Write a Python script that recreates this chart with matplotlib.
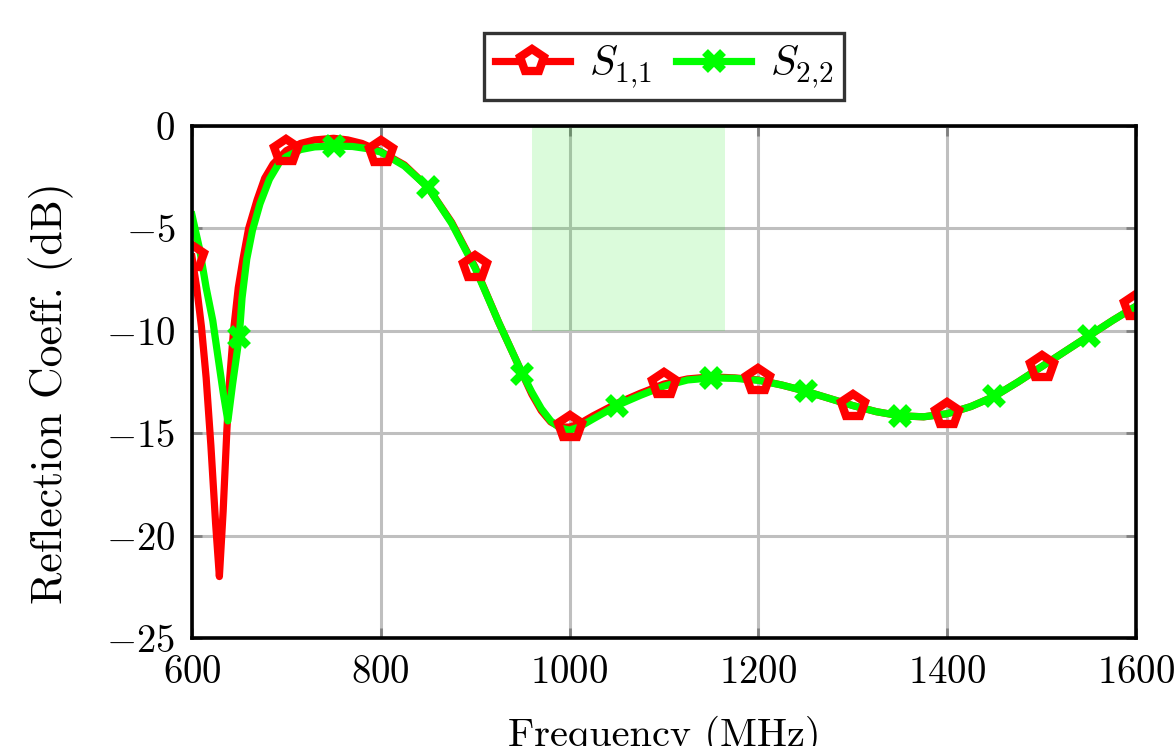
import matplotlib
matplotlib.use("Agg")
import matplotlib.pyplot as plt

plt.rcParams['font.family'] = 'serif'
plt.rcParams['font.serif'] = ['cmr10']
plt.rcParams['mathtext.fontset'] = 'cm'
plt.rcParams['axes.formatter.use_mathtext'] = True
plt.rcParams['axes.unicode_minus'] = True

# S11 (red)
s11_f = [600, 605, 610, 615, 620, 625, 629, 633, 637, 640, 644, 649, 654, 660, 669, 677,
         686, 700, 715, 730, 750, 765, 780, 800, 825, 850, 875, 900, 925, 950, 960, 970,
         980, 990, 1000, 1010, 1025, 1050, 1075, 1100, 1125, 1150, 1175, 1200, 1225,
         1250, 1275, 1300, 1325, 1350, 1375, 1400, 1425, 1450, 1475, 1500, 1525, 1550,
         1575, 1600]
s11_db = [-6.4, -7.9, -9.8, -12.3, -15.6, -19.4, -22.0, -18.8, -14.8, -12.3, -10.0, -7.9,
          -6.5, -5.0, -3.6, -2.55, -1.85, -1.2, -0.85, -0.68, -0.6, -0.68, -0.85, -1.25,
          -1.9, -3.0, -4.7, -6.9, -9.6, -12.1, -13.1, -13.9, -14.45, -14.7, -14.7,
          -14.55, -14.15, -13.55, -13.05, -12.6, -12.35, -12.25, -12.3, -12.4, -12.65,
          -12.95, -13.3, -13.65, -13.95, -14.15, -14.2, -14.05, -13.7, -13.2, -12.5,
          -11.75, -11.0, -10.25, -9.5, -8.8]

# S22 (green)
s22_f = [600, 608, 615, 622, 627, 633, 638, 643, 650, 653, 658, 664, 672, 682, 693, 700,
         715, 730, 750, 770, 785, 800, 825, 850, 875, 900, 925, 950, 960, 970, 980, 990,
         1000, 1010, 1025, 1050, 1075, 1100, 1125, 1150, 1175, 1200, 1225, 1250, 1275,
         1300, 1325, 1350, 1375, 1400, 1425, 1450, 1475, 1500, 1525, 1550, 1575, 1600]
s22_db = [-4.35, -6.0, -7.9, -9.5, -11.1, -13.0, -14.4, -12.6, -10.3, -8.4, -6.5, -5.1,
          -3.8, -2.6, -1.75, -1.5, -1.15, -1.02, -0.98, -1.0, -1.1, -1.27, -1.95, -3.0,
          -4.75, -6.95, -9.6, -12.1, -13.0, -13.8, -14.4, -14.75, -14.85, -14.7, -14.3,
          -13.65, -13.15, -12.7, -12.4, -12.3, -12.32, -12.42, -12.65, -12.95, -13.3,
          -13.65, -13.95, -14.15, -14.2, -14.05, -13.7, -13.2, -12.5, -11.75, -11.0,
          -10.25, -9.5, -8.8]

s11_mark_f = [600, 700, 800, 900, 1000, 1100, 1200, 1300, 1400, 1500, 1600]
s22_mark_f = [650, 750, 850, 950, 1050, 1150, 1250, 1350, 1450, 1550]

band_f = [960, 1165]
band_db = [-10, 0]

x_ticks = [600, 800, 1000, 1200, 1400, 1600]
y_ticks = [-25, -20, -15, -10, -5, 0]

fig = plt.figure(figsize=(11.76, 7.46), dpi=100)
ax = fig.add_axes([192/1176, 1-638/746, (1136-192)/1176, (638-126)/746])

ax.set_axisbelow(True)
ax.grid(True, color='#bfbfbf', linewidth=2.2, zorder=0)
ax.fill_between(band_f, band_db[0], band_db[1], color=(0.0, 0.9, 0.0), alpha=0.14,
                linewidth=0, zorder=1)

red = '#ff0000'
green = '#00ff00'
LW = 5.2

ax.plot(s11_f, s11_db, color=red, lw=LW, zorder=3)
s11_mark_db = [s11_db[s11_f.index(f)] for f in s11_mark_f]
s22_mark_db = [s22_db[s22_f.index(f)] for f in s22_mark_f]
ax.plot(s22_f, s22_db, color=green, lw=LW, zorder=4)
ax.plot(s22_mark_f, s22_mark_db, ls='none', marker='x', ms=12.5, mew=6,
        color=green, zorder=5)
ax.plot(s11_mark_f, s11_mark_db, ls='none', marker='p', ms=18, mew=6,
        mfc='none', mec=red, zorder=6)

# legend proxies
h1, = ax.plot([], [], color=red, lw=LW, marker='p', ms=18, mew=6, mfc='white', mec=red)
h2, = ax.plot([], [], color=green, lw=LW, marker='x', ms=12.5, mew=6)
leg = ax.legend([h1, h2], [r'$S_{1{,}1}$', r'$S_{2{,}2}$'], loc='lower center',
                bbox_to_anchor=(0.5, 1.05), ncol=2, frameon=True, fancybox=False,
                edgecolor='black', fontsize=30, handlelength=1.8, columnspacing=0.6,
                handletextpad=0.45, borderpad=0.25, borderaxespad=0)
leg.get_frame().set_linewidth(2.4)

ax.set_xlim(600, 1600)
ax.set_ylim(-25, 0)
ax.set_xticks(x_ticks)
ax.set_yticks(y_ticks)
ax.tick_params(direction='in', length=7, width=2, color='#808080',
               top=True, right=True, labelsize=28, pad=12)
for s in ax.spines.values():
    s.set_linewidth(2.6)
    s.set_zorder(10)

ax.set_xlabel('Frequency (MHz)', fontsize=29, labelpad=18)
ax.set_ylabel('Reflection Coeff. (dB)', fontsize=31.5)
ax.yaxis.set_label_coords(-0.125, 0.478)

fig.savefig('out.png', dpi=100)
